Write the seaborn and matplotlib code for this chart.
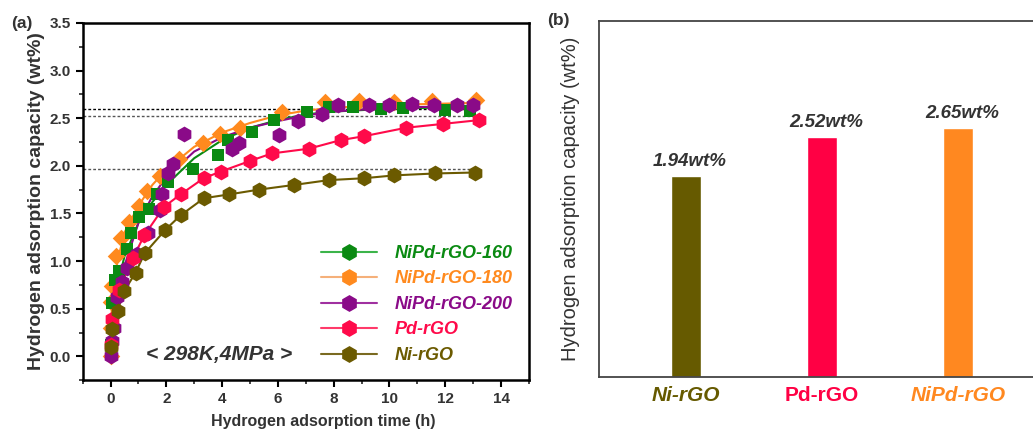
import numpy as np
import pandas as pd
import matplotlib
matplotlib.use("Agg")
import matplotlib.pyplot as plt
import seaborn as sns
from matplotlib.lines import Line2D
from matplotlib.ticker import MultipleLocator

# ---------------- data ----------------
# NiPd-rGO-160 (green squares)
t160 = [0.0, 0.05, 0.15, 0.30, 0.60, 0.75, 1.02, 1.37, 1.65, 2.06, 2.96, 3.87, 4.20, 5.08, 5.85, 7.04, 7.85, 8.70, 9.68, 10.50, 12.00, 12.90]
y160 = [0.12, 0.56, 0.80, 0.90, 1.13, 1.29, 1.46, 1.55, 1.70, 1.83, 1.97, 2.11, 2.27, 2.36, 2.48, 2.57, 2.62, 2.62, 2.60, 2.61, 2.59, 2.58]
# NiPd-rGO-180 (orange diamonds)
t180 = [0.0, 0.0, 0.02, 0.05, 0.18, 0.39, 0.66, 1.03, 1.31, 1.76, 2.47, 3.33, 3.92, 4.65, 6.13, 7.70, 8.92, 10.17, 11.52, 13.12]
y180 = [0.0, 0.30, 0.57, 0.74, 1.05, 1.24, 1.41, 1.58, 1.74, 1.89, 2.07, 2.24, 2.33, 2.40, 2.57, 2.67, 2.68, 2.67, 2.68, 2.69]
# NiPd-rGO-200 (purple hexagons)
t200 = [0.0, 0.05, 0.12, 0.24, 0.40, 0.60, 0.95, 1.35, 1.77, 1.85, 2.07, 2.25, 2.62, 4.36, 4.60, 6.05, 6.72, 7.58, 8.17, 9.25, 10.00, 10.80, 11.58, 12.41, 13.00]
y200 = [0.0, 0.16, 0.30, 0.62, 0.78, 0.93, 1.07, 1.30, 1.54, 1.70, 1.92, 2.02, 2.33, 2.18, 2.245, 2.32, 2.47, 2.54, 2.64, 2.64, 2.64, 2.65, 2.64, 2.64, 2.64]
# Pd-rGO (red hexagons)
tPd = [0.0, 0.05, 0.30, 0.80, 1.21, 1.92, 2.51, 3.34, 3.95, 4.99, 5.78, 7.11, 8.25, 9.07, 10.60, 11.91, 13.21]
yPd = [0.12, 0.39, 0.70, 1.03, 1.27, 1.57, 1.70, 1.87, 1.94, 2.05, 2.13, 2.18, 2.27, 2.31, 2.40, 2.44, 2.48]
# Ni-rGO (olive hexagons)
tNi = [0.0, 0.05, 0.25, 0.50, 0.90, 1.22, 1.97, 2.51, 3.35, 4.25, 5.31, 6.59, 7.82, 9.09, 10.18, 11.65, 13.06]
yNi = [0.10, 0.29, 0.48, 0.69, 0.88, 1.08, 1.33, 1.48, 1.66, 1.70, 1.75, 1.80, 1.85, 1.87, 1.90, 1.92, 1.93]

# fitted curves drawn in the reference
tfit = [0.0, 0.1, 0.25, 0.5, 1.0, 1.5, 2.0, 3.0, 4.0, 5.0, 6.0, 7.0, 8.0, 10.0, 13.0]
fit160 = [0.20, 0.50, 0.75, 1.05, 1.40, 1.62, 1.80, 2.08, 2.27, 2.40, 2.48, 2.54, 2.57, 2.60, 2.62]
fit180 = [0.30, 0.70, 1.00, 1.30, 1.58, 1.80, 1.96, 2.20, 2.35, 2.45, 2.53, 2.58, 2.61, 2.64, 2.66]
fit200 = [0.00, 0.35, 0.60, 0.95, 1.40, 1.68, 1.88, 2.15, 2.30, 2.40, 2.47, 2.53, 2.57, 2.61, 2.63]

ref_levels = [2.60, 2.52, 1.97]
ref_end = 13.0

series_names = ["NiPd-rGO-160", "NiPd-rGO-180", "NiPd-rGO-200", "Pd-rGO", "Ni-rGO"]
series_colors = ["#0a8a12", "#ff8a1e", "#8a0a88", "#ff0a4a", "#6b5a00"]
legend_line_colors = ["#3cb44a", "#f5b07a", "#a030a0", "#ff3a6a", "#7a6a20"]

bar_names = ["Ni-rGO", "Pd-rGO", "NiPd-rGO"]
bar_values = [1.94, 2.52, 2.65]
bar_colors = ["#665a00", "#ff0044", "#ff8820"]

annot = "< 298K,4MPa >"

# ---------------- style ----------------
sns.set_theme(style="ticks")
plt.rcParams["font.family"] = ["Liberation Sans", "DejaVu Sans"]

fig = plt.figure(figsize=(10.33, 4.33), dpi=100)
axA = fig.add_axes([0.080, 0.122, 0.432, 0.825])
axB = fig.add_axes([0.580, 0.130, 0.425, 0.822])

txt = "#333333"

# ---------------- panel (a) ----------------
for lv in ref_levels:
    axA.plot([-1, ref_end], [lv, lv], ls=(0, (2, 1.5)), lw=1.0,
             color="black" if lv > 2.55 else "#555555", zorder=1)

sns.lineplot(x=tfit, y=fit180, ax=axA, color=series_colors[1], lw=1.5, zorder=2)
sns.lineplot(x=tfit, y=fit160, ax=axA, color=series_colors[0], lw=1.5, zorder=2)
sns.lineplot(x=tfit, y=fit200, ax=axA, color=series_colors[2], lw=1.5, zorder=2)
sns.lineplot(x=tPd, y=yPd, ax=axA, color=series_colors[3], lw=1.5, zorder=2, sort=False)
sns.lineplot(x=tNi, y=yNi, ax=axA, color=series_colors[4], lw=1.5, zorder=2, sort=False)

sns.scatterplot(x=t180, y=y180, ax=axA, color=series_colors[1], marker="D", s=80, linewidth=0, zorder=3)
sns.scatterplot(x=t160, y=y160, ax=axA, color=series_colors[0], marker="s", s=80, linewidth=0, zorder=3)
sns.scatterplot(x=t200, y=y200, ax=axA, color=series_colors[2], marker="h", s=130, linewidth=0, zorder=3)
sns.scatterplot(x=tPd, y=yPd, ax=axA, color=series_colors[3], marker="h", s=130, linewidth=0, zorder=3)
sns.scatterplot(x=tNi, y=yNi, ax=axA, color=series_colors[4], marker="h", s=130, linewidth=0, zorder=3)

axA.set_xlim(-1, 15)
axA.set_ylim(-0.25, 3.5)
axA.xaxis.set_minor_locator(MultipleLocator(1))
axA.yaxis.set_minor_locator(MultipleLocator(0.25))
axA.set_xticks(np.arange(0, 15, 2))
axA.set_yticks(np.arange(0, 3.51, 0.5))
axA.set_yticklabels([f"{v:.1f}" for v in np.arange(0, 3.51, 0.5)])
axA.tick_params(which="major", direction="out", length=5, width=1.5, labelsize=11, colors="black", labelcolor=txt)
axA.tick_params(which="minor", direction="out", length=3, width=1.2)
for lab in axA.get_xticklabels() + axA.get_yticklabels():
    lab.set_fontweight("bold")
for sp in axA.spines.values():
    sp.set_visible(True)
    sp.set_linewidth(1.8)
    sp.set_color("black")
axA.set_xlabel("Hydrogen adsorption time (h)", fontsize=11.5, fontweight="bold", color=txt, labelpad=2)
axA.xaxis.set_label_coords(0.54, -0.095)
axA.set_ylabel("Hydrogen adsorption capacity (wt%)", fontsize=14, fontweight="bold", color=txt, labelpad=3)

handles = [Line2D([0], [0], color=lc, lw=1.5, marker="h", markersize=11,
                  markerfacecolor=c, markeredgecolor=c)
           for c, lc in zip(series_colors, legend_line_colors)]
leg = axA.legend(handles, series_names, loc="lower right", bbox_to_anchor=(1.0, 0.0),
                 frameon=False, handlelength=3.15, handletextpad=0.95, labelspacing=0.47,
                 prop={"weight": "bold", "style": "italic", "size": 13})
for t, c in zip(leg.get_texts(), series_colors):
    t.set_color(c)

axA.text(0.305, 0.073, annot, transform=axA.transAxes, ha="center", va="center",
         fontsize=15, fontweight="bold", fontstyle="italic", color=txt)
fig.text(0.011, 0.945, "(a)", fontsize=12.5, fontweight="bold", color=txt, va="center")

# ---------------- panel (b) ----------------
dfb = pd.DataFrame({"name": bar_names, "value": bar_values})
sns.barplot(data=dfb, x="name", y="value", hue="name", palette=bar_colors,
            width=0.22, ax=axB, legend=False, saturation=1)
y0 = -1.02
axB.set_ylim(y0, 4.23)
axB.set_xlim(-0.638, 2.59)
for p in axB.patches:
    h = p.get_y() + p.get_height()
    p.set_y(y0)
    p.set_height(h - y0)
for i, v in enumerate(bar_values):
    axB.annotate(f"{v:.2f}wt%", (i + 0.03, v), xytext=(0, 10.5), textcoords="offset points",
                 ha="center", va="center", fontsize=13.5, fontweight="bold",
                 fontstyle="italic", color=txt)
axB.set_yticks([])
axB.set_xlabel("")
axB.set_ylabel("Hydrogen adsorption capacity (wt%)", fontsize=14.5, color=txt, labelpad=14)
axB.tick_params(axis="x", length=0, pad=7, labelsize=15)
styles = ["italic", "normal", "italic"]
for lab, c, st in zip(axB.get_xticklabels(), bar_colors, styles):
    lab.set_color(c)
    lab.set_fontweight("bold")
    lab.set_fontstyle(st)
for name in ["left", "top", "bottom"]:
    axB.spines[name].set_visible(True)
    axB.spines[name].set_color("#444444")
    axB.spines[name].set_linewidth(1.3)
axB.spines["right"].set_visible(False)
fig.text(0.530, 0.952, "(b)", fontsize=12.5, fontweight="bold", color=txt, va="center")

fig.savefig("out.png", dpi=100)
